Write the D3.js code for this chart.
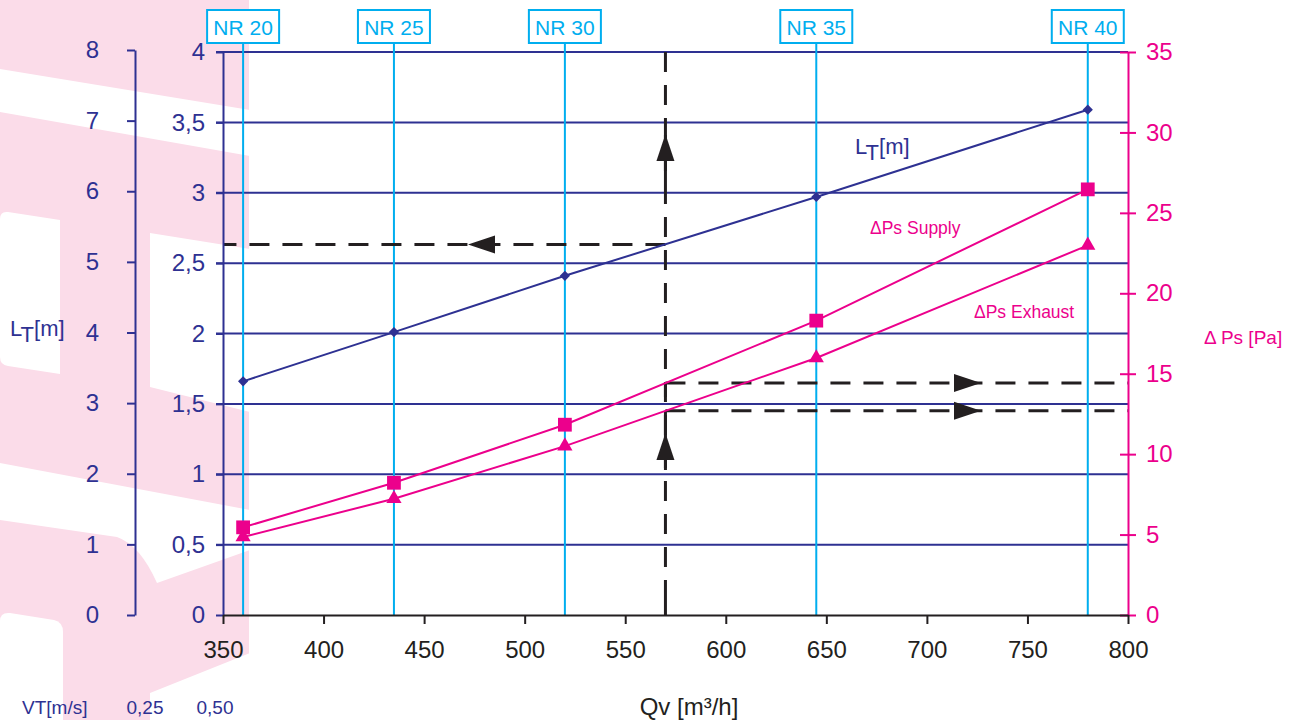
<!DOCTYPE html>
<html>
<head>
<meta charset="utf-8">
<script src="https://cdn.jsdelivr.net/npm/d3@7"></script>
<style>
  body { margin: 0; background: #fff; }
  text { font-family: "Liberation Sans", Arial, sans-serif; }
</style>
</head>
<body>
<svg id="chart"></svg>
<script>
// data
var qv = [360, 435, 520, 645, 780];
var nrLabels = ["NR 20", "NR 25", "NR 30", "NR 35", "NR 40"];
var throwLength = [1.66, 2.01, 2.41, 2.97, 3.59];
var dpSupply = [5.45, 8.22, 11.83, 18.3, 26.46];
var dpExhaust = [4.85, 7.23, 10.5, 15.98, 22.98];

var qvTicks = [350, 400, 450, 500, 550, 600, 650, 700, 750, 800];
var ltTicks = [0, 0.5, 1, 1.5, 2, 2.5, 3, 3.5, 4];
var ltOuterTicks = [0, 1, 2, 3, 4, 5, 6, 7, 8];
var dpTicks = [0, 5, 10, 15, 20, 25, 30, 35];
var vtLabels = ["0,25", "0,50"];

// reading example (Qv = 570)
var readQv = 570;
var readLt = 2.633;
var readSupply = 14.42;
var readExhaust = 12.69;

// colours
var navy = "#2e3192";
var magenta = "#ec008c";
var cyan = "#00aeef";
var ink = "#231f20";
var blush = "#fbdce9";

var size = { width: 1294, height: 720 };

var svg = d3.select("#chart")
  .attr("width", size.width)
  .attr("height", size.height);

var x = d3.scaleLinear().domain([350, 800]).range([223, 1128]);
var yL = d3.scaleLinear().domain([0, 4]).range([615, 52]);
var yOuter = d3.scaleLinear().domain([0, 8]).range([615, 50]);
var yR = d3.scaleLinear().domain([0, 35]).range([615, 52]);

var comma = function(d){ return String(d).replace(".", ","); };

// faded logo in the background
var bg = svg.append("g");
bg.append("rect").attr("x", 0).attr("y", 0).attr("width", 249).attr("height", 720).attr("fill", blush);
var holes = [
  "M0,69 L250,110 L250,156 L0,112 Z",
  "M0,219 Q0,211 8,212 L60,220 L60,374 L8,366 Q0,365 0,357 Z",
  "M150,233 L250,249 L250,412 L150,387 Z",
  "M0,463 L250,510 L250,550 L157,583 Q140,545 117,537 L0,520 Z",
  "M0,621 Q0,612 10,613 L54,620 Q63,622 63,632 L63,720 L0,720 Z",
  "M150,693 L250,653 L250,720 L150,720 Z"
];
bg.selectAll("path").data(holes).enter().append("path")
  .attr("d", function(d){ return d; })
  .attr("fill", "#fff");

// horizontal grid
svg.append("g").selectAll("line")
  .data(ltTicks.filter(function(d){ return d > 0; }))
  .enter().append("line")
  .attr("x1", 216).attr("x2", x(800))
  .attr("y1", function(d){ return yL(d); })
  .attr("y2", function(d){ return yL(d); })
  .attr("stroke", navy).attr("stroke-width", 2);

// NR lines and boxes
var nr = svg.append("g");
nr.selectAll("line").data(qv).enter().append("line")
  .attr("x1", function(d){ return x(d); })
  .attr("x2", function(d){ return x(d); })
  .attr("y1", 43).attr("y2", 615)
  .attr("stroke", cyan).attr("stroke-width", 2);
nr.selectAll("rect").data(qv).enter().append("rect")
  .attr("x", function(d){ return x(d) - 36; })
  .attr("y", 10).attr("width", 72).attr("height", 33)
  .attr("fill", "#fff").attr("stroke", cyan).attr("stroke-width", 2);
nr.selectAll("text").data(qv).enter().append("text")
  .attr("x", function(d){ return x(d); })
  .attr("y", 35)
  .attr("text-anchor", "middle")
  .attr("font-size", 21)
  .attr("fill", cyan)
  .text(function(d, i){ return nrLabels[i]; });

// reading example, dashed
var dash = svg.append("g")
  .attr("stroke", ink).attr("stroke-width", 3).attr("fill", "none")
  .attr("stroke-dasharray", "20,13");
dash.append("line").attr("x1", x(readQv)).attr("x2", x(readQv)).attr("y1", yL(4)).attr("y2", 592);
dash.append("line").attr("x1", x(readQv)).attr("x2", x(350)).attr("y1", yL(readLt)).attr("y2", yL(readLt));
dash.append("line").attr("x1", x(readQv)).attr("x2", x(800)).attr("y1", yR(readSupply)).attr("y2", yR(readSupply));
dash.append("line").attr("x1", x(readQv)).attr("x2", x(800)).attr("y1", yR(readExhaust)).attr("y2", yR(readExhaust));
var solid = svg.append("g").attr("stroke", ink).attr("stroke-width", 3);
solid.append("line").attr("x1", x(readQv)).attr("x2", x(readQv)).attr("y1", 135).attr("y2", 184);
solid.append("line").attr("x1", x(readQv)).attr("x2", x(readQv)).attr("y1", yR(readExhaust)).attr("y2", 470);
solid.append("line").attr("x1", x(readQv)).attr("x2", x(readQv)).attr("y1", 592).attr("y2", 615);
solid.append("line").attr("x1", x(readQv)).attr("x2", x(readQv)).attr("y1", yR(readSupply)).attr("y2", yR(readSupply) + 14);

function arrow(px, py, dir){
  // tip at (px,py); dir: "up", "left", "right"
  var l = 27, w = 9, p;
  if (dir === "up") p = [[px, py], [px - w, py + l], [px + w, py + l]];
  if (dir === "left") p = [[px, py], [px + l, py - w], [px + l, py + w]];
  if (dir === "right") p = [[px, py], [px - l, py - w], [px - l, py + w]];
  svg.append("path").attr("d", "M" + p.join("L") + "Z").attr("fill", ink);
}
arrow(x(readQv), 134, "up");
arrow(x(readQv), 433, "up");
arrow(468, yL(readLt), "left");
arrow(981, yR(readSupply), "right");
arrow(981, yR(readExhaust), "right");

// series lines
var lineLt = d3.line()
  .x(function(d, i){ return x(qv[i]); })
  .y(function(d){ return yL(d); });
var lineDp = d3.line()
  .x(function(d, i){ return x(qv[i]); })
  .y(function(d){ return yR(d); });

svg.append("path").attr("d", lineLt(throwLength))
  .attr("fill", "none").attr("stroke", navy).attr("stroke-width", 2);
svg.append("path").attr("d", lineDp(dpSupply))
  .attr("fill", "none").attr("stroke", magenta).attr("stroke-width", 2);
svg.append("path").attr("d", lineDp(dpExhaust))
  .attr("fill", "none").attr("stroke", magenta).attr("stroke-width", 2);

// markers
svg.append("g").selectAll("path").data(throwLength).enter().append("path")
  .attr("d", d3.symbol().type(d3.symbolSquare).size(52))
  .attr("transform", function(d, i){ return "translate(" + x(qv[i]) + "," + yL(d) + ") rotate(45)"; })
  .attr("fill", navy);
svg.append("g").selectAll("path").data(dpSupply).enter().append("path")
  .attr("d", d3.symbol().type(d3.symbolSquare).size(190))
  .attr("transform", function(d, i){ return "translate(" + x(qv[i]) + "," + yR(d) + ")"; })
  .attr("fill", magenta);
svg.append("g").selectAll("path").data(dpExhaust).enter().append("path")
  .attr("d", d3.symbol().type(d3.symbolTriangle).size(100))
  .attr("transform", function(d, i){ return "translate(" + x(qv[i]) + "," + yR(d) + ")"; })
  .attr("fill", magenta);

// axes
var axL = svg.append("g")
  .attr("transform", "translate(223,0)")
  .call(d3.axisLeft(yL).tickValues(ltTicks).tickSize(7).tickSizeOuter(0).tickPadding(11).tickFormat(comma));
axL.selectAll("path, line").attr("stroke", navy).attr("stroke-width", 2);
axL.selectAll("text").attr("fill", navy).attr("font-size", 24).attr("font-family", null);

var axO = svg.append("g")
  .attr("transform", "translate(135,0)")
  .call(d3.axisLeft(yOuter).tickValues(ltOuterTicks).tickSize(8).tickSizeOuter(0).tickPadding(28));
axO.selectAll("path, line").attr("stroke", navy).attr("stroke-width", 2);
axO.selectAll("text").attr("fill", navy).attr("font-size", 24).attr("font-family", null);

var axR = svg.append("g")
  .attr("transform", "translate(" + x(800) + ",0)")
  .call(d3.axisRight(yR).tickValues(dpTicks).tickSize(8).tickSizeOuter(0).tickPadding(10));
axR.selectAll("path, line").attr("stroke", magenta).attr("stroke-width", 2);
axR.selectAll(".tick line").attr("x1", -8);
axR.selectAll("text").attr("fill", magenta).attr("font-size", 24).attr("font-family", null);

var axB = svg.append("g")
  .attr("transform", "translate(0,615)")
  .call(d3.axisBottom(x).tickValues(qvTicks).tickSize(9).tickSizeOuter(0).tickPadding(17));
axB.selectAll("path, line").attr("stroke", ink).attr("stroke-width", 2);
axB.selectAll("text").attr("fill", ink).attr("font-size", 24).attr("font-family", null);

// labels
function subLabel(px, py, fs, color){
  var t = svg.append("text").attr("x", px).attr("y", py).attr("font-size", fs).attr("fill", color);
  t.append("tspan").text("L");
  t.append("tspan").attr("dy", 6).text("T");
  t.append("tspan").attr("dy", -6).text("[m]");
}
subLabel(855, 154, 22, navy);
subLabel(10, 336, 22, navy);

svg.append("text").attr("x", 870).attr("y", 234).attr("font-size", 17.5).attr("fill", magenta).text("\u0394Ps Supply");
svg.append("text").attr("x", 974).attr("y", 318).attr("font-size", 17.5).attr("fill", magenta).text("\u0394Ps Exhaust");
svg.append("text").attr("x", 1204).attr("y", 344).attr("font-size", 19).attr("fill", magenta).text("\u0394 Ps [Pa]");

svg.append("text").attr("x", 689).attr("y", 715).attr("text-anchor", "middle")
  .attr("font-size", 24).attr("fill", ink).text("Qv [m\u00b3/h]");

svg.append("text").attr("x", 22).attr("y", 714).attr("font-size", 19).attr("fill", navy).text("VT[m/s]");
svg.selectAll(".vt").data(vtLabels).enter().append("text")
  .attr("class", "vt")
  .attr("x", function(d, i){ return 145 + i * 70; })
  .attr("y", 714).attr("text-anchor", "middle")
  .attr("font-size", 19).attr("fill", navy)
  .text(function(d){ return d; });
</script>
</body>
</html>
